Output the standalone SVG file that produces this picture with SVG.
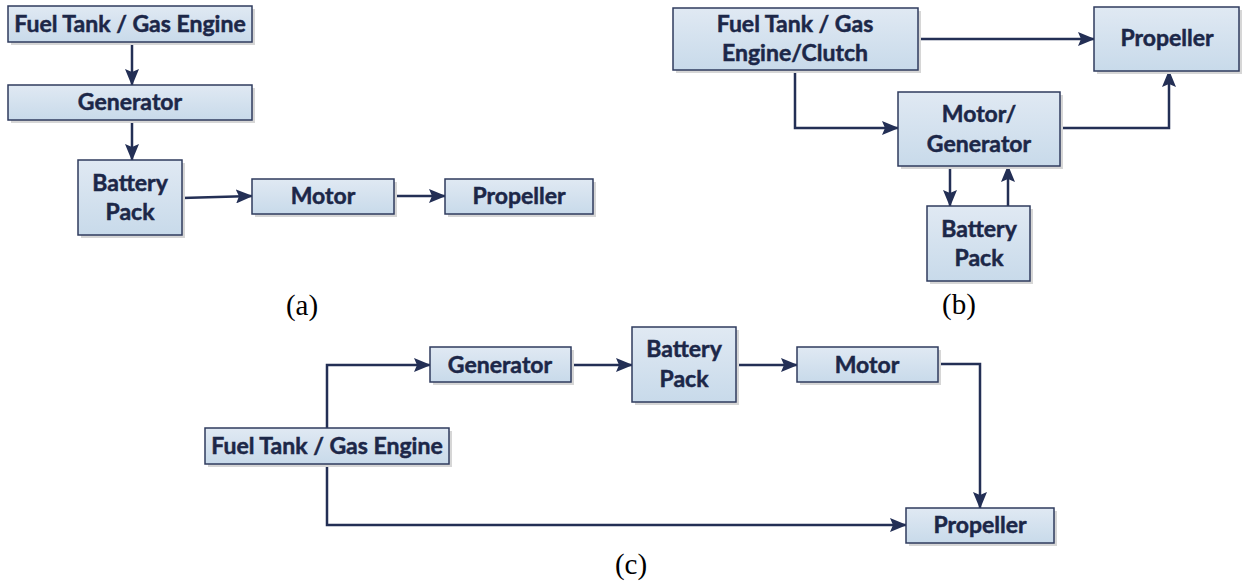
<svg xmlns="http://www.w3.org/2000/svg" width="1242" height="587" viewBox="0 0 1242 587">
<defs>
<linearGradient id="g" x1="0" y1="0" x2="0" y2="1">
<stop offset="0" stop-color="#E0E9F3"/>
<stop offset="1" stop-color="#C8DAEA"/>
</linearGradient>
<marker id="ah" markerWidth="17" markerHeight="14" refX="16" refY="7" orient="auto" markerUnits="userSpaceOnUse">
<path d="M0,0 L17,7 L0,14 L3,7 Z" fill="#232F55"/>
</marker>
<style>
.box{fill:url(#g);stroke:#2F3B5E;stroke-width:1.5}
.sh{fill:#D6D6D6}
.t{font-family:Lato,"Open Sans","Liberation Sans",sans-serif;font-weight:bold;font-size:23px;fill:#1C2748;stroke:#1C2748;stroke-width:0.5;text-anchor:middle}
.cap{font-family:"Liberation Serif","Times New Roman",serif;font-size:29px;fill:#000;text-anchor:middle}
.c{fill:none;stroke:#232F55;stroke-width:2.5;marker-end:url(#ah)}
</style>
</defs>
<rect width="1242" height="587" fill="#fff"/>

<g id="connectors">
<path class="c" d="M132,42 V85"/>
<path class="c" d="M132,120 V160"/>
<path class="c" d="M182,198 L252,196"/>
<path class="c" d="M394,196 H445"/>
<path class="c" d="M918,39 H1094"/>
<path class="c" d="M795,70 V128 H898"/>
<path class="c" d="M1060,128 H1169 V71"/>
<path class="c" d="M950,166 V206"/>
<path class="c" d="M1008,206 V166"/>
<path class="c" d="M327,428 V365 H430"/>
<path class="c" d="M327,464 V525 H906"/>
<path class="c" d="M571,365 H632"/>
<path class="c" d="M736,365 H797"/>
<path class="c" d="M938,364 H980 V508"/>
</g>

<g id="a-fuel"><rect class="sh" x="11" y="9" width="244" height="36"/><rect class="box" x="8" y="6" width="244" height="36"/><text class="t" x="130" y="32">Fuel Tank / Gas Engine</text></g>
<g id="a-generator"><rect class="sh" x="11" y="88" width="244" height="35"/><rect class="box" x="8" y="85" width="244" height="35"/><text class="t" x="130" y="110">Generator</text></g>
<g id="a-battery"><rect class="sh" x="81" y="163" width="104" height="75"/><rect class="box" x="78" y="160" width="104" height="75"/><text class="t" x="130" y="191">Battery</text><text class="t" x="130" y="220">Pack</text></g>
<g id="a-motor"><rect class="sh" x="255" y="182" width="142" height="35"/><rect class="box" x="252" y="179" width="142" height="35"/><text class="t" x="323" y="204">Motor</text></g>
<g id="a-propeller"><rect class="sh" x="448" y="182" width="148" height="35"/><rect class="box" x="445" y="179" width="148" height="35"/><text class="t" x="519" y="204">Propeller</text></g>

<g id="b-fuel"><rect class="sh" x="676" y="11" width="245" height="62"/><rect class="box" x="673" y="8" width="245" height="62"/><text class="t" x="795" y="32">Fuel Tank / Gas</text><text class="t" x="795" y="61">Engine/Clutch</text></g>
<g id="b-propeller"><rect class="sh" x="1097" y="10" width="145" height="64"/><rect class="box" x="1094" y="7" width="145" height="64"/><text class="t" x="1167" y="46">Propeller</text></g>
<g id="b-motorgen"><rect class="sh" x="901" y="95" width="162" height="74"/><rect class="box" x="898" y="92" width="162" height="74"/><text class="t" x="979" y="122">Motor/</text><text class="t" x="979" y="152">Generator</text></g>
<g id="b-battery"><rect class="sh" x="930" y="209" width="103" height="75"/><rect class="box" x="927" y="206" width="103" height="75"/><text class="t" x="979" y="237">Battery</text><text class="t" x="979" y="266">Pack</text></g>

<g id="c-fuel"><rect class="sh" x="208" y="431" width="244" height="36"/><rect class="box" x="205" y="428" width="244" height="36"/><text class="t" x="327" y="454">Fuel Tank / Gas Engine</text></g>
<g id="c-generator"><rect class="sh" x="433" y="350" width="141" height="35"/><rect class="box" x="430" y="347" width="141" height="35"/><text class="t" x="500" y="373">Generator</text></g>
<g id="c-battery"><rect class="sh" x="635" y="330" width="104" height="75"/><rect class="box" x="632" y="327" width="104" height="75"/><text class="t" x="684" y="357">Battery</text><text class="t" x="684" y="387">Pack</text></g>
<g id="c-motor"><rect class="sh" x="800" y="350" width="141" height="35"/><rect class="box" x="797" y="347" width="141" height="35"/><text class="t" x="867" y="373">Motor</text></g>
<g id="c-propeller"><rect class="sh" x="909" y="511" width="148" height="35"/><rect class="box" x="906" y="508" width="148" height="35"/><text class="t" x="980" y="533">Propeller</text></g>

<text class="cap" x="302" y="315">(a)</text>
<text class="cap" x="959" y="314">(b)</text>
<text class="cap" x="631" y="574">(c)</text>
</svg>
